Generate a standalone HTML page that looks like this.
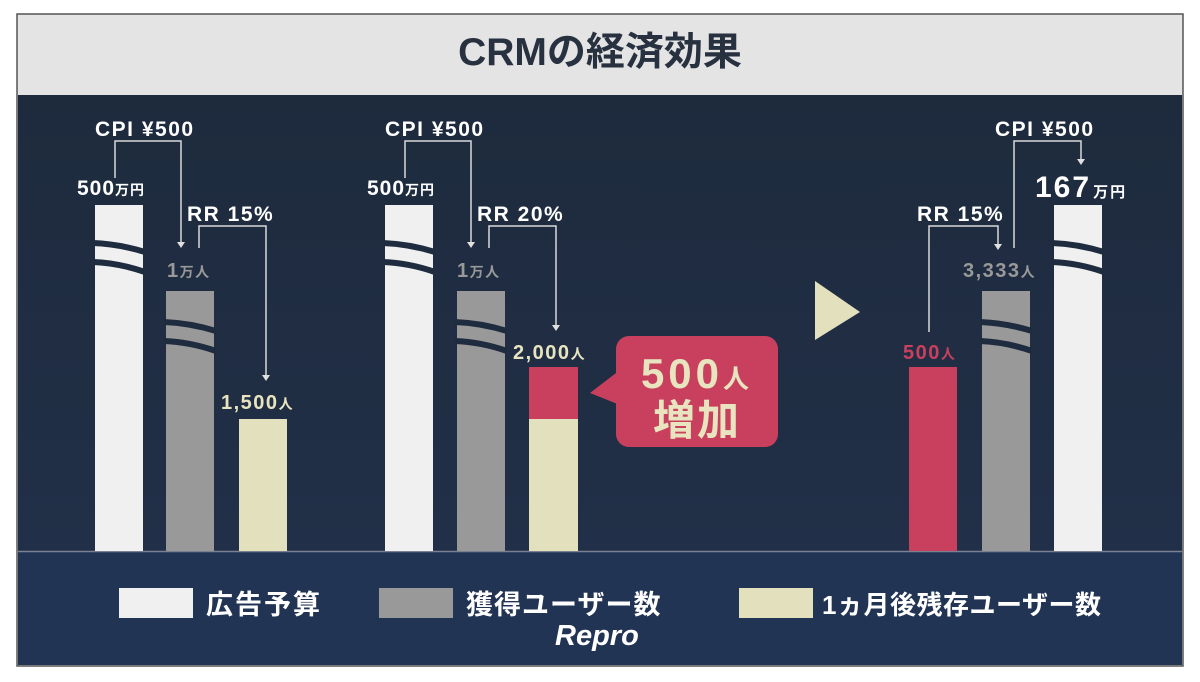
<!DOCTYPE html>
<html><head><meta charset="utf-8"><style>
body{margin:0;width:1200px;height:682px;background:#fff;overflow:hidden;font-family:"Liberation Sans","Noto Sans CJK JP",sans-serif}
</style></head><body>
<svg width="1200" height="682" viewBox="0 0 1200 682" xmlns="http://www.w3.org/2000/svg" style="position:absolute;left:0;top:0">
<defs>
<linearGradient id="bg" x1="0" y1="0" x2="0" y2="1"><stop offset="0" stop-color="#1e2b3d"/><stop offset="1" stop-color="#212f48"/></linearGradient>
</defs>
<rect x="17" y="14" width="1166" height="652" fill="#e4e4e4" stroke="#555" stroke-width="1.5"/>
<rect x="18" y="95" width="1164" height="456" fill="url(#bg)"/>
<rect x="18" y="551" width="1164" height="114" fill="#223454"/>
<line x1="18" y1="551.5" x2="1182" y2="551.5" stroke="#7a8090" stroke-width="1.5"/>
<text x="600" y="65" text-anchor="middle" font-size="39" font-weight="bold" fill="#28313f">CRMの経済効果</text>

<g font-weight="bold">
<rect x="95" y="205" width="48" height="346" fill="#f0f0f0"/>
<rect x="166" y="291" width="48" height="260" fill="#999"/>
<rect x="239" y="419" width="48" height="132" fill="#e3e1bd"/>
<rect x="385" y="205" width="48" height="346" fill="#f0f0f0"/>
<rect x="457" y="291" width="48" height="260" fill="#999"/>
<rect x="529" y="367" width="49" height="52" fill="#c9405f"/>
<rect x="529" y="419" width="49" height="132" fill="#e3e1bd"/>
<rect x="909" y="367" width="48" height="184" fill="#c9405f"/>
<rect x="982" y="291" width="48" height="260" fill="#999"/>
<rect x="1054" y="205" width="48" height="346" fill="#f0f0f0"/>

<g fill="none" stroke="#1f2c3f" stroke-width="6">
<path d="M93 243 Q119 244 145 252"/><path d="M93 262 Q119 263 145 272"/>
<path d="M383 243 Q409 244 435 252"/><path d="M383 262 Q409 263 435 272"/>
<path d="M1052 243 Q1078 244 1104 252"/><path d="M1052 262 Q1078 263 1104 272"/>
<path d="M164 322 Q190 323 216 331"/><path d="M164 341 Q190 342 216 351"/>
<path d="M455 322 Q481 323 507 331"/><path d="M455 341 Q481 342 507 351"/>
<path d="M980 322 Q1006 323 1032 331"/><path d="M980 341 Q1006 342 1032 351"/>
</g>

<g fill="none" stroke="#d8d8d8" stroke-width="1.5">
<path d="M115 178 V141 H181 V243"/><path d="M199 248 V226 H266 V376"/>
<path d="M405 178 V141 H471 V243"/><path d="M489 248 V226 H556 V326"/>
<path d="M929 332 V226 H998 V245"/><path d="M1014 248 V141 H1081 V160"/>
</g>
<g fill="#e0e0e0">
<path d="M177 242 h8 l-4 6z"/><path d="M262 375 h8 l-4 6z"/>
<path d="M467 242 h8 l-4 6z"/><path d="M552 325 h8 l-4 6z"/>
<path d="M994 244 h8 l-4 6z"/><path d="M1077 159 h8 l-4 6z"/>
</g>

<g fill="#fff" font-size="21" letter-spacing="1.5">
<text x="95" y="136">CPI ¥500</text><text x="385" y="136">CPI ¥500</text><text x="995" y="136">CPI ¥500</text>
<text x="187" y="221">RR 15%</text><text x="477" y="221">RR 20%</text><text x="917" y="221">RR 15%</text>
<text x="77" y="195" font-size="21" letter-spacing="1">500<tspan font-size="14">万円</tspan></text>
<text x="367" y="195" font-size="21" letter-spacing="1">500<tspan font-size="14">万円</tspan></text>
<text x="1035" y="197" font-size="30" letter-spacing="2">167<tspan font-size="15" dx="2">万円</tspan></text>
</g>
<g font-size="20" letter-spacing="1.5">
<text x="167" y="277" fill="#999">1<tspan font-size="14">万人</tspan></text>
<text x="457" y="277" fill="#999">1<tspan font-size="14">万人</tspan></text>
<text x="963" y="277" fill="#999">3,333<tspan font-size="14">人</tspan></text>
<text x="221" y="409" fill="#e8e4c0">1,500<tspan font-size="14">人</tspan></text>
<text x="513" y="359" fill="#e8e4c0">2,000<tspan font-size="14">人</tspan></text>
<text x="903" y="359" fill="#c9405f">500<tspan font-size="14">人</tspan></text>
</g>

<rect x="616" y="336" width="162" height="111" rx="13" fill="#c9405f"/>
<path d="M620 370 L590 393 L620 405z" fill="#c9405f"/>
<text x="697" y="388" text-anchor="middle" font-size="42" fill="#e8e4c0" letter-spacing="4">500<tspan font-size="26">人</tspan></text>
<text x="697" y="435" text-anchor="middle" font-size="42" fill="#e8e4c0" letter-spacing="2">増加</text>

<path d="M815 281 L860 312 L815 340z" fill="#e3e1bd"/>

<rect x="119" y="588" width="74" height="30" fill="#f0f0f0"/>
<text x="206" y="614" font-size="27" fill="#fff" letter-spacing="2">広告予算</text>
<rect x="379" y="588" width="74" height="30" fill="#999"/>
<text x="466" y="614" font-size="27" fill="#fff" letter-spacing="1">獲得ユーザー数</text>
<rect x="739" y="588" width="74" height="30" fill="#e3e1bd"/>
<text x="822" y="614" font-size="26" fill="#fff" letter-spacing="0.5">1ヵ月後残存ユーザー数</text>
<text x="555" y="645" font-size="29" font-style="italic" fill="#fff">Repro</text>
</g>
</svg>
</body></html>
